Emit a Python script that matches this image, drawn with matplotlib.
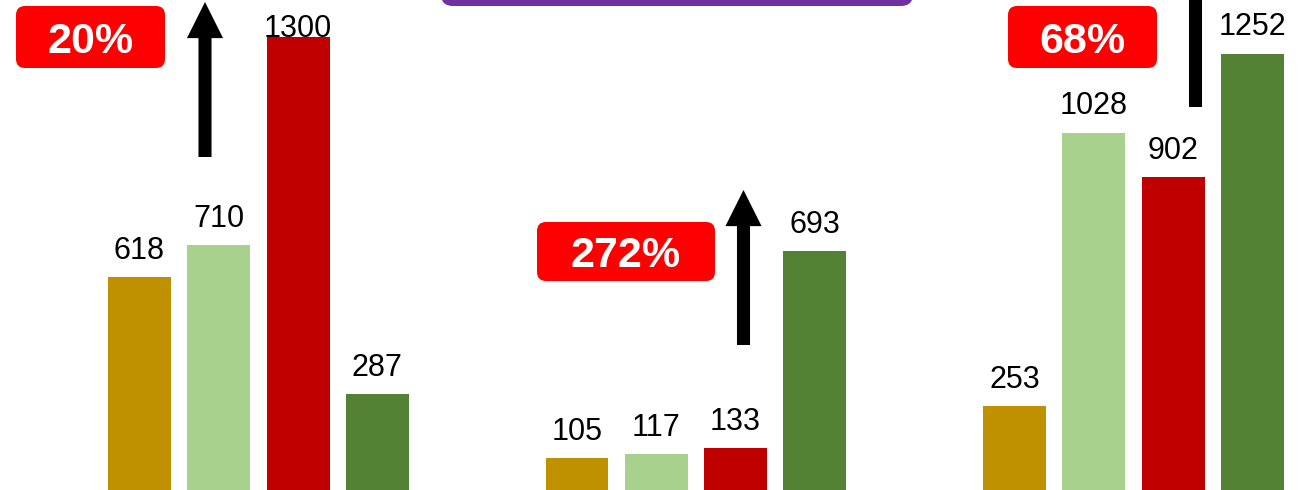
import numpy as np
import matplotlib.pyplot as plt
from matplotlib.patches import FancyBboxPatch, FancyArrowPatch
from matplotlib.transforms import IdentityTransform

plt.rcParams['font.family'] = ['Liberation Sans', 'DejaVu Sans']

# data, one list per series (three groups each)
gold_vals = [618, 105, 253]
light_green_vals = [710, 117, 1028]
red_vals = [1300, 133, 902]
green_vals = [287, 693, 1252]
series = [gold_vals, light_green_vals, red_vals, green_vals]
series_colors = ['#BF9000', '#A9D18E', '#C00000', '#548235']
change_labels = ['20%', '272%', '68%']

W, H = 1307, 490
group_pitch = 5.517  # in bar-widths
bar_width = 0.794

fig = plt.figure(figsize=(W / 100, H / 100), dpi=100)
ax = fig.add_axes([0, 0, 1, 1])
ax.set_xlim(-1.759, 14.722)
ax.set_ylim(14.2, 1403.8)
ax.axis('off')

group_x = np.arange(len(gold_vals)) * group_pitch
for i, (vals, col) in enumerate(zip(series, series_colors)):
    xs = group_x + i
    ax.bar(xs, vals, width=bar_width, color=col, edgecolor='none')
    for x, v in zip(xs, vals):
        # label would run off the top -> tuck it down onto the bar
        off = -5 if v > 0.9 * ax.get_ylim()[1] else 8
        ax.annotate(str(v), (x, v), xytext=(0, off), textcoords='offset points',
                    ha='center', va='bottom', fontsize=22, color='black')


def px(x, y):
    # pixel coords measured from top-left -> display coords
    return (x, H - y)


ident = IdentityTransform()

# purple title box, mostly cut off at the top
x0, y0 = px(441, 6)
fig.patches.append(FancyBboxPatch((x0, y0), 472, 80, boxstyle='round,pad=0,rounding_size=12',
                                  fc='#7030A0', ec='none', transform=ident))

# red change boxes: left, top, right, bottom
boxes = [(16, 6, 165, 68), (537, 222, 715, 281), (1008, 6, 1157, 68)]
for (l, t, r, b), lab in zip(boxes, change_labels):
    bx, by = px(l, b)
    fig.patches.append(FancyBboxPatch((bx, by), r - l, b - t,
                                      boxstyle='round,pad=0,rounding_size=9',
                                      fc='#FF0000', ec='none', transform=ident))
    cx, cy = px((l + r) / 2, (t + b) / 2)
    fig.text(cx, cy, lab, transform=ident, ha='center', va='center_baseline',
             fontsize=31, fontweight='bold', color='white')

# black up arrows: x, tail y, tip y
arrows = [(205, 157, 2), (743.5, 345, 190), (1195.5, 107, -60)]
for x, yt, yh in arrows:
    fig.patches.append(FancyArrowPatch(px(x, yt), px(x, yh), transform=ident,
                                       arrowstyle='simple,head_width=26,head_length=26,tail_width=9.4',
                                       mutation_scale=1, shrinkA=0, shrinkB=0,
                                       fc='black', ec='none'))

fig.savefig('out.png', dpi=100)
